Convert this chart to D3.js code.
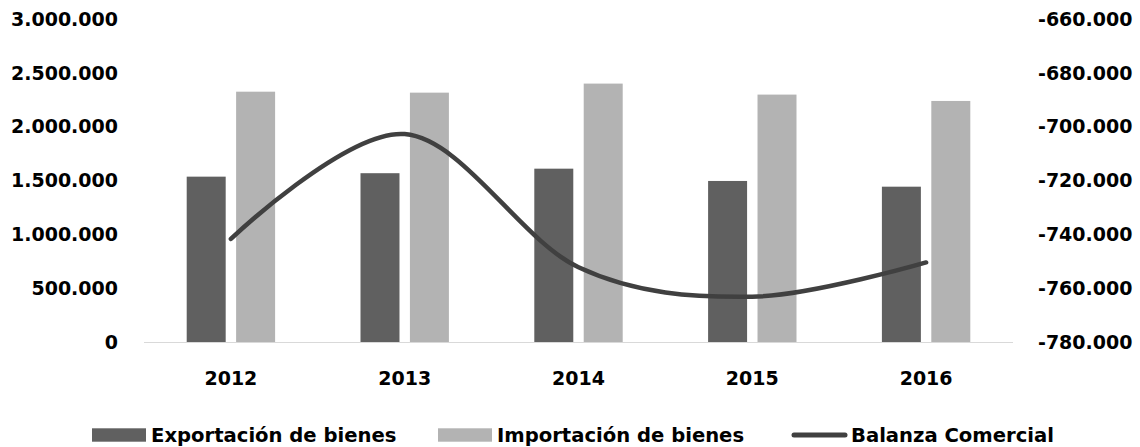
<!DOCTYPE html>
<html>
<head>
<meta charset="utf-8">
<script src="https://cdn.jsdelivr.net/npm/d3@7"></script>
<style>
  html, body { margin: 0; padding: 0; background: #fff; }
  svg text { font-family: "DejaVu Sans", sans-serif; font-weight: bold; font-size: 19px; fill: #000; }
  svg text.leg { font-size: 19.6px; }
</style>
</head>
<body>
<svg id="chart" width="1140" height="447"></svg>
<script>
const years = ["2012", "2013", "2014", "2015", "2016"];
const exportaciones = [1538000, 1570000, 1612000, 1498000, 1445000];
const importaciones = [2326000, 2317000, 2401000, 2299000, 2240000];
const balanza = [-741600, -702700, -752100, -763000, -750300];
const leftTicks = [0, 500000, 1000000, 1500000, 2000000, 2500000, 3000000];
const rightTicks = [-780000, -760000, -740000, -720000, -700000, -680000, -660000];
const seriesNames = ["Exportación de bienes", "Importación de bienes", "Balanza Comercial"];
const seriesColors = ["#606060", "#b3b3b3", "#404040"];

const svg = d3.select("#chart");
const plotL = 144, plotR = 1013, plotT = 19, plotB = 342.5;

const loc = d3.formatLocale({decimal: ",", thousands: ".", grouping: [3], currency: ["", ""], minus: "-"});
const fmt = loc.format(",d");

const x0 = d3.scaleBand().domain(years).range([plotL, plotR]).paddingInner(0).paddingOuter(0);
const groupW = 88.4;
const x1 = d3.scaleBand().domain([0, 1]).range([0, groupW]).paddingInner(0.211).paddingOuter(0);
const yL = d3.scaleLinear().domain([0, 3000000]).range([plotB, plotT]);
const yR = d3.scaleLinear().domain([-780000, -660000]).range([plotB, plotT]);

// bars
const barData = [exportaciones, importaciones];
barData.forEach((vals, si) => {
  svg.append("g").selectAll("rect").data(vals).join("rect")
    .attr("x", (d, i) => x0(years[i]) + (x0.bandwidth() - groupW) / 2 + x1(si))
    .attr("width", x1.bandwidth())
    .attr("y", d => yL(d))
    .attr("height", d => yL(0) - yL(d))
    .attr("fill", seriesColors[si]);
});

// baseline
svg.append("line")
  .attr("x1", plotL).attr("x2", plotR)
  .attr("y1", yL(0)).attr("y2", yL(0))
  .attr("stroke", "#d9d9d9").attr("stroke-width", 1.2);

// line
const line = d3.line()
  .x((d, i) => x0(years[i]) + x0.bandwidth() / 2)
  .y(d => yR(d))
  .curve(d3.curveCardinal.tension(0));
svg.append("path").datum(balanza)
  .attr("d", line)
  .attr("fill", "none")
  .attr("stroke", seriesColors[2])
  .attr("stroke-width", 4.5)
  .attr("stroke-linecap", "round");

// axes
const axL = svg.append("g").attr("transform", `translate(${plotL},0)`)
  .call(d3.axisLeft(yL).tickValues(leftTicks).tickFormat(fmt).tickSize(0).tickPadding(26));
axL.select(".domain").remove();

const axR = svg.append("g").attr("transform", `translate(${plotR},0)`)
  .call(d3.axisRight(yR).tickValues(rightTicks).tickFormat(fmt).tickSize(0).tickPadding(25));
axR.select(".domain").remove();

const axB = svg.append("g").attr("transform", `translate(0,${plotB})`)
  .call(d3.axisBottom(x0).tickSize(0).tickPadding(29));
axB.select(".domain").remove();

svg.selectAll(".tick text")
  .style("font-family", "'DejaVu Sans', sans-serif")
  .style("font-weight", "bold")
  .style("font-size", "19px")
  .attr("fill", "#000");

// legend
const legX = [92, 438, 792];
const legY = 428.3, legH = 13.4;
const lg = svg.append("g");
[0, 1].forEach(i => {
  lg.append("rect").attr("x", legX[i]).attr("y", legY).attr("width", 54).attr("height", legH)
    .attr("fill", seriesColors[i]);
});
lg.append("line").attr("x1", legX[2] + 2).attr("x2", legX[2] + 53)
  .attr("y1", legY + legH / 2).attr("y2", legY + legH / 2)
  .attr("stroke", seriesColors[2]).attr("stroke-width", 5).attr("stroke-linecap", "round");
seriesNames.forEach((n, i) => {
  lg.append("text").attr("class", "leg").attr("x", legX[i] + 59).attr("y", 441.7).text(n);
});
</script>
</body>
</html>
